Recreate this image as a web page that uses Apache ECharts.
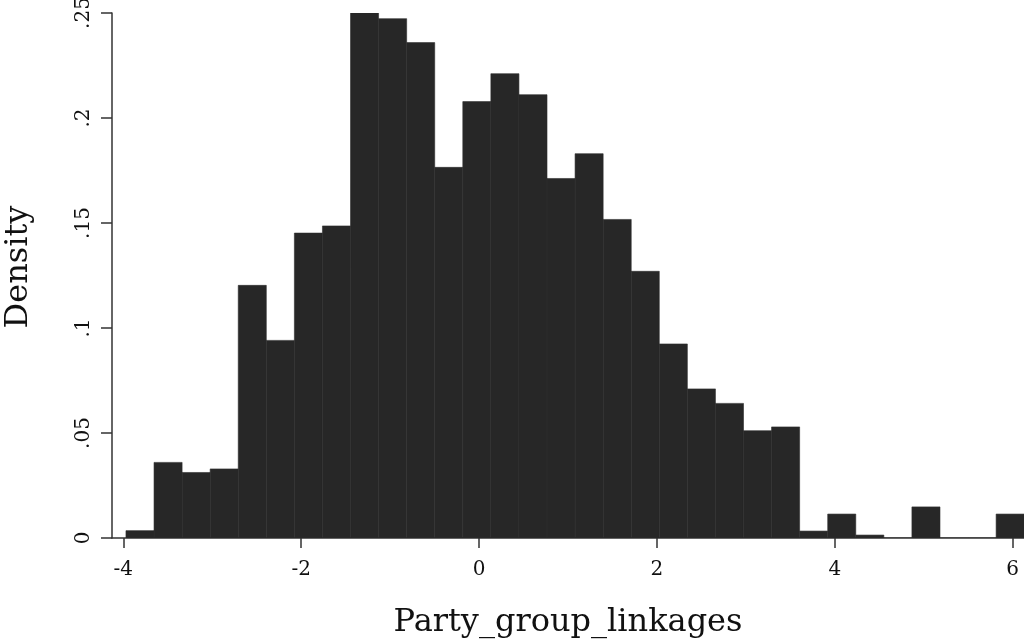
<!DOCTYPE html>
<html>
<head>
<meta charset="utf-8">
<script src="https://cdn.jsdelivr.net/npm/echarts@6/dist/echarts.min.js"></script>
<style>
html,body{margin:0;padding:0;background:#fff;}
#chart{width:1024px;height:639px;}
</style>
</head>
<body>
<div id="chart"></div>
<script>
// Histogram bins: first bin left edge and bin width (in data units)
const binStart = -3.97;
const binWidth = 0.3156;
// Density of each bin, left to right
const densities = [0.0035, 0.0360, 0.0312, 0.0329, 0.1203, 0.0941, 0.1452, 0.1486,
  0.2508, 0.2473, 0.2359, 0.1765, 0.2078, 0.2211, 0.2111, 0.1712,
  0.1830, 0.1517, 0.1270, 0.0924, 0.0710, 0.0641, 0.0511, 0.0529,
  0.0033, 0.0114, 0.0014, 0, 0.0148, 0, 0, 0.0114];
const xTicks = [-4, -2, 0, 2, 4, 6];
const yTicks = [0, 0.05, 0.1, 0.15, 0.2, 0.25];
const yTickLabels = ['0', '.05', '.1', '.15', '.2', '.25'];
const xTitle = 'Party_group_linkages';
const yTitle = 'Density';

const binData = densities.map((d, i) => [binStart + i * binWidth, binStart + (i + 1) * binWidth, d]);

const font = 'DejaVu Serif';
const chart = echarts.init(document.getElementById('chart'));
chart.setOption({
  animation: false,
  backgroundColor: '#ffffff',
  grid: {left: 112, right: 0, top: 13, bottom: 101, containLabel: false, outerBoundsMode: 'none'},
  xAxis: {
    type: 'value',
    min: -4.127, max: 6.127,
    splitLine: {show: false},
    axisLine: {show: true, onZero: false, lineStyle: {color: '#333', width: 1.5}},
    axisTick: {show: true, length: 10, lineStyle: {color: '#333', width: 1.5},
      customValues: xTicks},
    axisLabel: {show: true, fontFamily: font, fontSize: 20, color: '#111', margin: 22,
      customValues: xTicks},
    name: xTitle, nameLocation: 'middle', nameGap: 69,
    nameTextStyle: {fontFamily: font, fontSize: 32, color: '#111'}
  },
  yAxis: {
    type: 'value',
    min: 0, max: 0.25,
    interval: 0.05,
    splitLine: {show: false},
    axisLine: {show: true, onZero: false, lineStyle: {color: '#333', width: 1.5}},
    axisTick: {show: true, length: 11, lineStyle: {color: '#333', width: 1.5}},
    axisLabel: {show: true, fontFamily: font, fontSize: 20, color: '#111', margin: 18, rotate: 90,
      formatter: v => {
        const idx = yTicks.findIndex(t => Math.abs(t - v) < 1e-9);
        return idx >= 0 ? yTickLabels[idx] : '';
      }},
    name: yTitle, nameLocation: 'middle', nameGap: 77,
    nameTextStyle: {fontFamily: font, fontSize: 32, color: '#111', padding: [0, 0, 0, 17]}
  },
  series: [{
    type: 'custom',
    data: binData,
    clip: true,
    renderItem: function (params, api) {
      const p0 = api.coord([api.value(0), api.value(2)]);
      const p1 = api.coord([api.value(1), 0]);
      return {
        type: 'rect',
        shape: {x: p0[0], y: p0[1], width: p1[0] - p0[0], height: p1[1] - p0[1]},
        style: {fill: '#272727', stroke: '#2e2e2e', lineWidth: 0.6}
      };
    },
    encode: {x: [0, 1], y: 2}
  }]
});
</script>
</body>
</html>
